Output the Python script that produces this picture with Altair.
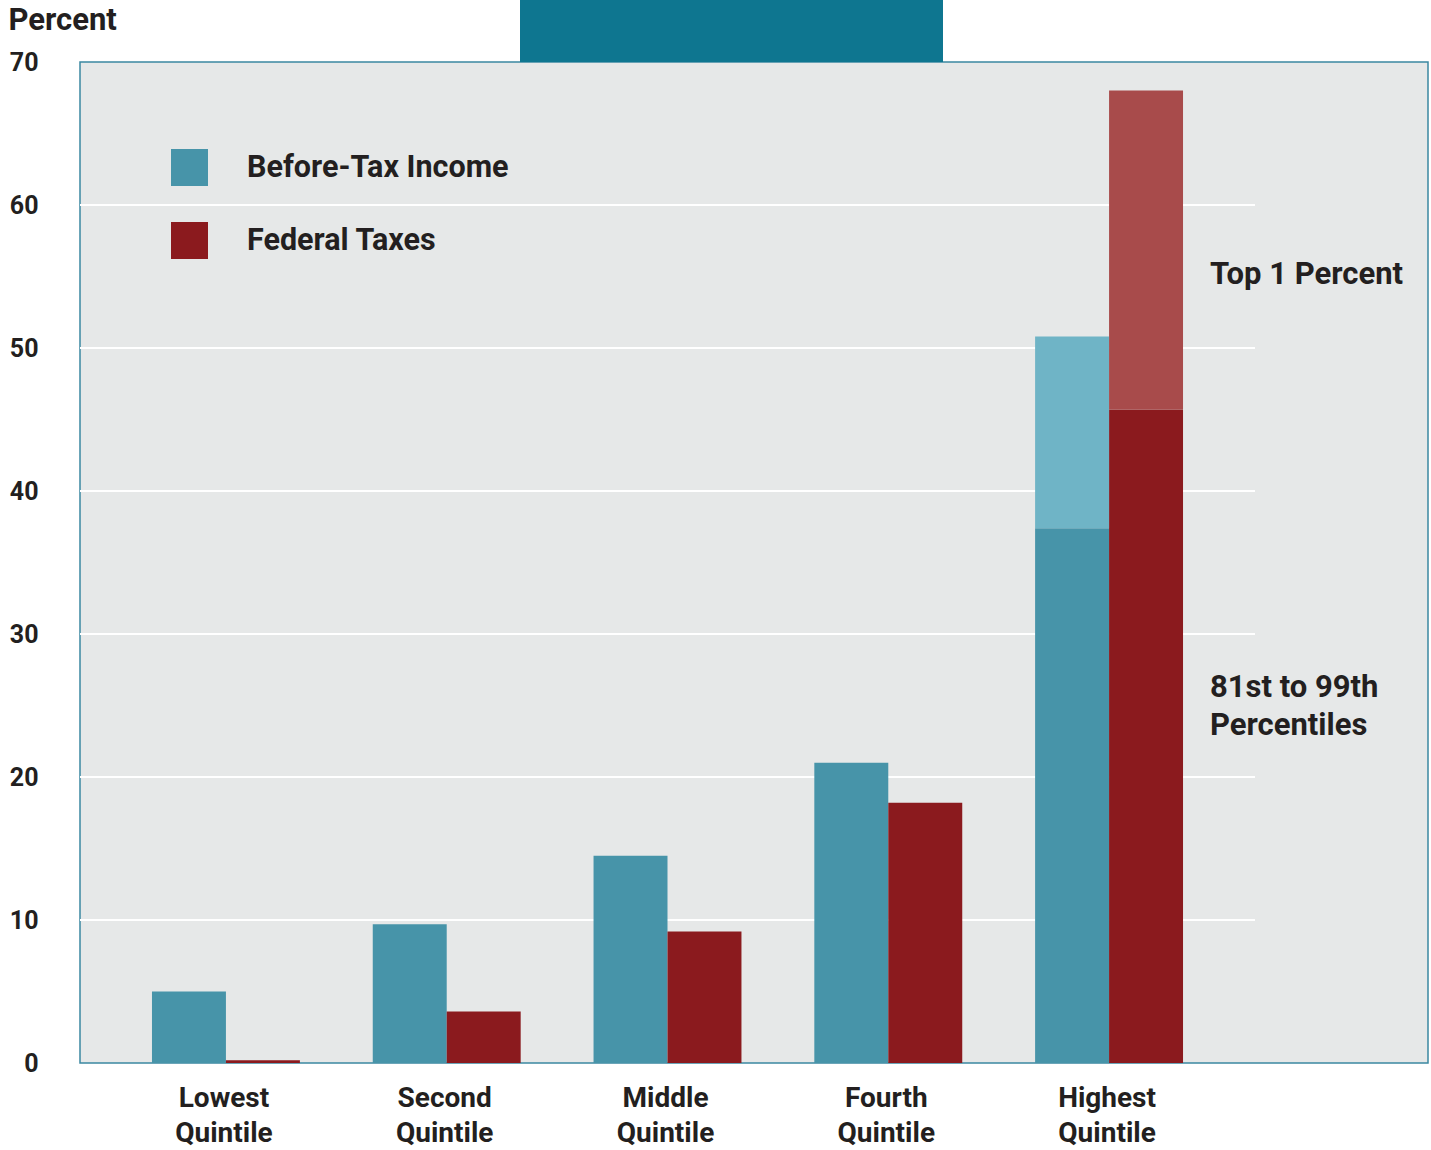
import altair as alt
import pandas as pd

# ---- data ----
categories = ["Lowest Quintile", "Second Quintile", "Middle Quintile",
              "Fourth Quintile", "Highest Quintile"]
income_share = [5.0, 9.7, 14.5, 21.0, 37.4]     # highest = 81st-99th percentiles
tax_share = [0.2, 3.6, 9.2, 18.2, 45.7]         # highest = 81st-99th percentiles
top1_income_share = 13.4
top1_tax_share = 22.3

series = ["Before-Tax Income", "Federal Taxes"]
segments = ["Before-Tax Income", "Federal Taxes",
            "Before-Tax Income, Top 1 Percent", "Federal Taxes, Top 1 Percent"]
colors = ["#4794a9", "#8b1a1e", "#6fb4c6", "#a84b4b"]

y_ticks = [0, 10, 20, 30, 40, 50, 60, 70]
grid_values = [10, 20, 30, 40, 50, 60]

ann_text = ["Top 1 Percent", "81st to 99th", "Percentiles"]
ann_y = [55.1, 26.2, 23.6]

FONT = "Roboto, 'Liberation Sans', sans-serif"
TXT = "#231f20"

rows = []
for c, inc, tax in zip(categories, income_share, tax_share):
    rows.append(dict(category=c, series=series[0], segment=segments[0], order=0, value=inc))
    rows.append(dict(category=c, series=series[1], segment=segments[1], order=0, value=tax))
rows.append(dict(category=categories[-1], series=series[0], segment=segments[2], order=1,
                 value=top1_income_share))
rows.append(dict(category=categories[-1], series=series[1], segment=segments[3], order=1,
                 value=top1_tax_share))
bars_df = pd.DataFrame(rows)

y_scale = alt.Scale(domain=[0, 70], nice=False)
y_axis = alt.Axis(
    values=y_ticks, title="Percent", titleAngle=0, titleX=-72, titleY=-42,
    titleAlign="left", titleBaseline="middle", titleFontSize=31,
    titleFont=FONT, titleFontWeight="bold", titleColor=TXT,
    grid=False, domain=False, ticks=False, tickSize=0, labelPadding=42,
    labelFontSize=25, labelFont=FONT, labelFontWeight="bold", labelColor=TXT,
)

bars = alt.Chart(bars_df).mark_bar().encode(
    x=alt.X(
        "category:N", sort=categories,
        scale=alt.Scale(domain=categories, range=[0, 1175],
                        paddingInner=0.33, paddingOuter=0.326),
        axis=alt.Axis(title=None, labelExpr="split(datum.label, ' ')", labelAngle=0,
                      labelFontSize=28, labelFont=FONT, labelFontWeight="bold",
                      labelColor=TXT, labelPadding=21, labelLineHeight=35,
                      labelOffset=-2, domain=False, ticks=False, tickSize=0),
    ),
    xOffset=alt.XOffset("series:N", sort=series,
                        scale=alt.Scale(domain=series, paddingInner=0, paddingOuter=0)),
    y=alt.Y("value:Q", stack="zero", scale=y_scale, axis=y_axis),
    color=alt.Color(
        "segment:N",
        scale=alt.Scale(domain=segments, range=colors),
        legend=alt.Legend(
            values=series, orient="none", legendX=91, legendY=87, title=None,
            symbolType="square", symbolSize=1369, symbolStrokeWidth=0,
            labelFontSize=30.5, labelFont=FONT, labelFontWeight="bold", labelColor=TXT,
            labelOffset=39, labelLimit=0, rowPadding=36, padding=0, symbolOpacity=1,
        ),
    ),
    order=alt.Order("order:Q"),
)

grid = alt.Chart(pd.DataFrame({"value": grid_values})).mark_rule(
    color="white", strokeWidth=2
).encode(y=alt.Y("value:Q", stack=None, scale=y_scale, axis=y_axis),
         x=alt.value(0), x2=alt.value(1175))

ann = alt.Chart(pd.DataFrame({"text": ann_text, "value": ann_y})).mark_text(
    align="left", baseline="middle", fontSize=31, font=FONT, fontWeight="bold", color=TXT
).encode(x=alt.value(1130), y=alt.Y("value:Q", stack=None, scale=y_scale, axis=y_axis),
         text="text:N")

banner = alt.Chart(pd.DataFrame({"a": [0]})).mark_rect(color="#0e7690").encode(
    x=alt.value(440), x2=alt.value(863), y=alt.value(-62), y2=alt.value(0)
)

chart = alt.layer(banner, grid, bars, ann).properties(
    width=1348, height=1001,
    padding={"left": 80, "top": 62, "right": 3, "bottom": 87},
    autosize=alt.AutoSizeParams(type="none"),
    background="white",
).configure_view(fill="#e6e8e8", stroke="#3b88a1", strokeWidth=1.5)

chart.save("out.html", embed_options={"renderer": "svg", "actions": False})
